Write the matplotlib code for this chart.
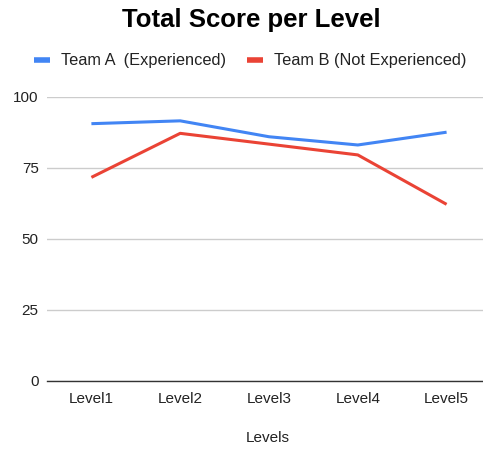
import numpy as np
import matplotlib.pyplot as plt

levels = ['Level1', 'Level2', 'Level3', 'Level4', 'Level5']
team_a = [90.5, 91.5, 85.9, 83.0, 87.5]
team_b = [71.6, 87.1, 83.3, 79.5, 62.1]
yticks = [0, 25, 50, 75, 100]

plt.rcParams['font.family'] = ['Liberation Sans', 'DejaVu Sans']

W, H = 483, 450
fig = plt.figure(figsize=(W / 100, H / 100), dpi=100)
ax = fig.add_axes([47 / W, 1 - 380.7 / H, (W - 47) / W, (380.7 - 96.7) / H])

x = np.arange(len(levels))
ax.plot(x, team_a, color='#4285F4', lw=2.2, label='Team A  (Experienced)', solid_capstyle='butt')
ax.plot(x, team_b, color='#EA4335', lw=2.2, label='Team B (Not Experienced)', solid_capstyle='butt')

ax.set_xlim(-0.5, 4.41)
ax.set_ylim(0, 100)
ax.set_yticks(yticks)
ax.set_xticks(x)
ax.set_xticklabels(levels)
ax.tick_params(axis='both', length=0, labelsize=11, colors='#222222')
ax.tick_params(axis='y', pad=6)
ax.tick_params(axis='x', pad=8)
ax.grid(axis='y', color='#cccccc', lw=1)
ax.set_axisbelow(True)
for s in ['top', 'right', 'left']:
    ax.spines[s].set_visible(False)
ax.spines['bottom'].set_color('#333333')
ax.spines['bottom'].set_linewidth(1)

fig.text(251 / W, 1 - 20 / H, 'Total Score per Level', ha='center', va='center',
         fontsize=18.5, fontweight='bold', color='black')
fig.text(268 / W, 1 - 438 / H, 'Levels', ha='center', va='center', fontsize=11, color='#222222')

fig.legend(loc='center', bbox_to_anchor=(250 / W, 1 - 61 / H), ncol=2, frameon=False,
           fontsize=11.8, handlelength=0.98, handletextpad=0.67, columnspacing=1.28,
           labelcolor='#222222')
for line in fig.legends[0].get_lines():
    line.set_linewidth(4)

fig.savefig('out.png', dpi=100)
